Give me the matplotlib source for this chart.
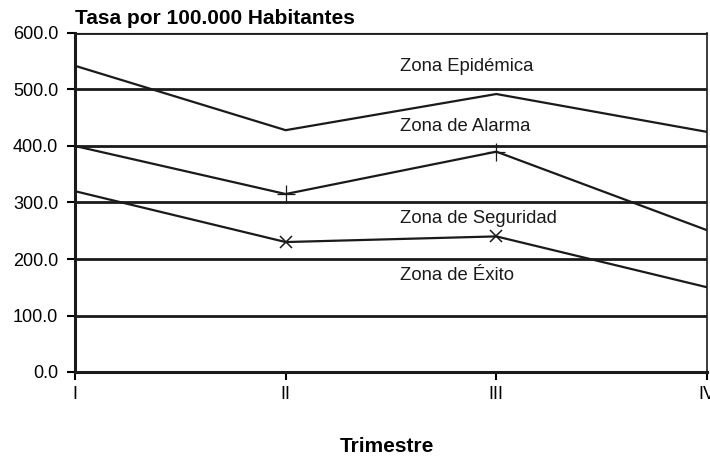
import matplotlib.pyplot as plt
import numpy as np

plt.rcParams["font.family"] = ["Liberation Sans", "DejaVu Sans"]

trimestres = ["I", "II", "III", "IV"]
zona_epidemica = [542, 428, 492, 425]   # limite superior de alarma
zona_alarma = [400, 315, 390, 251]      # marcador "+"
zona_seguridad = [320, 230, 240, 150]   # marcador "x"
y_ticks = [0, 100, 200, 300, 400, 500, 600]

zonas = ["Zona Epidémica", "Zona de Alarma", "Zona de Seguridad", "Zona de Éxito"]
zona_y = [540, 434, 271, 170]

fig = plt.figure(figsize=(7.1, 4.57), dpi=100)
ax = fig.add_axes([75 / 710, 85 / 457, 632 / 710, 339 / 457])

x = np.arange(len(trimestres))

# lineas horizontales de la grilla
for yv in y_ticks[1:]:
    ax.axhline(yv, color="#1a1a1a", lw=2.0, zorder=1)

ax.plot(x, zona_epidemica, color="#1a1a1a", lw=1.6, zorder=3)
ax.plot(x, zona_alarma, color="#1a1a1a", lw=1.6, marker="+", ms=13,
        mew=0.9, markevery=[1, 2], zorder=3)
ax.plot(x, zona_seguridad, color="#1a1a1a", lw=1.6, marker="x", ms=8,
        mew=1.1, markevery=[1, 2], zorder=3)

for txt, yv in zip(zonas, zona_y):
    ax.text(1.545, yv, txt, fontsize=13.3, color="#1a1a1a", va="center", ha="left")

ax.set_xlim(0, 3)
ax.set_ylim(0, 600)
ax.set_yticks(y_ticks)
ax.set_yticklabels([f"{v:.1f}" for v in y_ticks], fontsize=13)
ax.set_xticks(x)
ax.set_xticklabels(trimestres, fontsize=13)
ax.tick_params(axis="y", direction="out", length=5.5, width=1.5, pad=6.5)
ax.tick_params(axis="x", direction="out", length=6, width=1.5, pad=4)

ax.spines["left"].set_linewidth(2.2)
ax.spines["bottom"].set_linewidth(2.2)
ax.spines["top"].set_linewidth(0.8)
ax.spines["right"].set_linewidth(1.2)
for s in ax.spines.values():
    s.set_color("#1a1a1a")

fig.text(75 / 710, 1 - 18 / 457, "Tasa por 100.000 Habitantes", fontsize=15,
         fontweight="bold", ha="left", va="center")
fig.text(387 / 710, 1 - 446 / 457, "Trimestre", fontsize=15,
         fontweight="bold", ha="center", va="center")

fig.savefig("out.png", dpi=100)
